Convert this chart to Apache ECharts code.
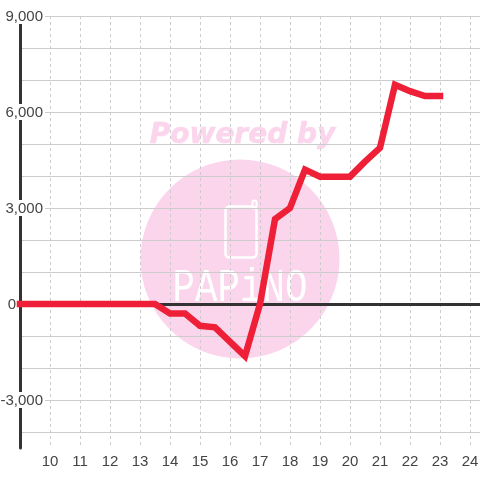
<!DOCTYPE html>
<html><head><meta charset="utf-8">
<style>html,body{margin:0;padding:0;background:#fff}#c{width:480px;height:480px}</style>
<script src="https://cdn.jsdelivr.net/npm/echarts@6/dist/echarts.min.js"></script>
</head><body><div id="c"></div>
<script>
const xValues = [9,13.5,14,14.5,15,15.5,16.5,17,17.5,18,18.5,19,20,20.5,21,21.5,22,22.5,23];
const yValues = [0,0,-300,-300,-680,-730,-1630,0,2650,3000,4200,3980,3980,4450,4880,6850,6650,6500,6500];
const yGridValues = [-4000,-3000,-2000,-1000,0,1000,2000,3000,4000,5000,6000,7000,8000,9000];
const yLabelValues = [-3000,0,3000,6000,9000];
const watermarkTitle = 'Powered by';
const watermarkBrand = 'PAPiNO';

const textColor = '#444';
const labelFont = {fontFamily:'Liberation Sans',fontSize:15,color:textColor};
const chart = echarts.init(document.getElementById('c'), null, {renderer:'canvas'});
chart.setOption({
  animation:false,
  backgroundColor:'#fff',
  grid:{left:20,right:0,top:16,bottom:32,containLabel:false,outerBoundsMode:'none'},
  graphic:{elements:[
    {type:'circle',z:-10,silent:true,shape:{cx:240,cy:259,r:99.5},style:{fill:'#fbd5ec'}},
    {type:'text',z:-10,silent:true,x:242.5,y:135.5,style:{text:watermarkTitle,font:'italic bold 28px "DejaVu Sans"',fill:'#fbd5ec',stroke:'#fbd5ec',lineWidth:0.6,align:'center',verticalAlign:'middle'}},
    {type:'rect',z:-9,silent:true,shape:{x:225.5,y:206.5,width:31,height:51,r:4},style:{fill:'none',stroke:'#fff',lineWidth:2.5}},
    {type:'rect',z:-9,silent:true,shape:{x:252.5,y:200.5,width:4,height:8,r:2},style:{fill:'none',stroke:'#fff',lineWidth:2}},
    {type:'text',z:-9,silent:true,x:240,y:289,scaleX:1.04,scaleY:1.3,style:{text:watermarkBrand,font:'36px "Liberation Mono"',fill:'#fff',align:'center',verticalAlign:'middle'}}
  ]},
  xAxis:[{
    type:'value',min:9,max:9+460/30,interval:1,position:'bottom',
    axisLine:{show:false,onZero:false},axisTick:{show:false},
    axisLabel:Object.assign({margin:6,showMaxLabel:false,showMinLabel:false,
      formatter:v=>Number.isInteger(v)&&v>9?String(v):''},labelFont),
    splitLine:{show:true,showMinLine:false,showMaxLine:false,lineStyle:{color:'#ccc',width:1,type:[3,3]}}
  },{
    type:'value',min:9,max:9+460/30,interval:1,position:'bottom',z:4,
    axisLine:{show:true,onZero:true,lineStyle:{color:'#333',width:3}},axisTick:{show:false},axisLabel:{show:false},splitLine:{show:false}
  }],
  yAxis:{
    type:'value',min:-4500,max:9000,
    axisLine:{show:true,onZero:false,lineStyle:{color:'#333',width:3}},
    axisTick:{show:false,customValues:yGridValues},
    axisLabel:Object.assign({margin:-25,align:'right',customValues:yLabelValues,
      formatter:v=>v===0?'{zero|0}':'{num|'+v.toLocaleString('en-US')+'}',
      rich:{
        num:Object.assign({backgroundColor:'#fff',padding:[1,2,0,0],lineHeight:13},labelFont),
        zero:Object.assign({padding:[1,29,0,0],lineHeight:13},labelFont)
      }},labelFont),
    splitLine:{show:true,lineStyle:{color:'#ccc',width:1}},
    z:3
  },
  series:[{type:'line',data:xValues.map((x,i)=>[x,yValues[i]]),showSymbol:false,symbol:'none',clip:false,
    lineStyle:{color:'#ee1f36',width:6.5,cap:'square',join:'miter'},z:5,silent:true}]
});
</script></body></html>
